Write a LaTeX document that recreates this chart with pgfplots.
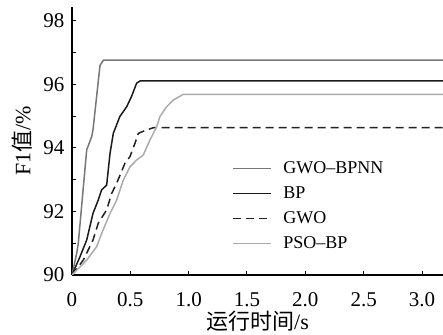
\documentclass[border=0pt]{standalone}
\usepackage{pgfplots}
\pgfplotsset{compat=1.18}
\usepackage{fontspec}
\setmainfont{Liberation Serif}
\newfontfamily\cjk{Noto Sans CJK SC}
\definecolor{cA}{HTML}{777777}
\definecolor{cB}{HTML}{1A1A1A}
\definecolor{cC}{HTML}{222222}
\definecolor{cD}{HTML}{ABABAB}
\begin{document}
\begin{tikzpicture}
\begin{axis}[
  name=ax,
  scale only axis, width=371pt, height=268pt,
  xmin=0, xmax=3.18, ymin=90, ymax=98.44,
  enlargelimits=false,
  axis lines=left,
  axis line style={-, line width=1.2pt, black},
  tick align=inside,
  tick style={black, line width=1pt},
  major tick length=4pt, minor tick length=4pt,
  xtick={0,0.5,1.0,1.5,2.0,2.5,3.0},
  xticklabels={0,0.5,1.0,1.5,2.0,2.5,3.0},
  ytick={90,92,94,96,98},
  minor ytick={91,93,95,97},
  tick label style={font=\fontsize{21}{25}\selectfont},
  yticklabel style={xshift=-4pt},
  xticklabel style={yshift=-14pt},
  /pgf/number format/assume math mode=true,
  xlabel={{\cjk 运行时间}/s},
  ylabel={F1{\cjk 值}/\%},
  xlabel style={at={(axis description cs:0.5,-0.172)}, anchor=center},
  ylabel style={at={(axis description cs:-0.135,0.5)}, anchor=center},
  label style={font=\fontsize{22}{26}\selectfont},
  legend style={draw=none, fill=none, at={(0.4225,0.453)}, anchor=north west,
    font=\fontsize{18}{22}\selectfont, row sep=0pt, column sep=10pt,
    nodes={minimum height=25pt, inner ysep=0pt}},
  legend cell align=left,
  legend image code/.code={\draw[#1] (0pt,0pt) -- (38pt,0pt);},
]
\addplot[cA, line width=1.5pt] coordinates {
(0,90) (0.04,90.68) (0.054,91.0) (0.126,93.94) (0.169,94.36) (0.18,94.57)
(0.24,96.6) (0.27,96.77) (3.18,96.77)};
\addlegendentry{GWO--BPNN}
\addplot[cB, line width=1.5pt] coordinates {
(0,90) (0.069,90.58) (0.126,91.1) (0.18,91.94) (0.225,92.36) (0.254,92.68)
(0.297,92.83) (0.326,93.83) (0.354,94.46) (0.41,94.99) (0.469,95.3)
(0.51,95.62) (0.554,96.04) (0.583,96.11) (3.18,96.11)};
\addlegendentry{BP}
\addplot[cC, line width=1.5pt, dash pattern=on 8pt off 5pt] coordinates {
(0,90) (0.097,90.47) (0.18,91.1) (0.225,91.63) (0.297,92.05) (0.34,92.57)
(0.383,92.89) (0.454,93.52) (0.497,93.73) (0.54,94.15) (0.568,94.46)
(0.64,94.57) (0.70,94.64) (3.18,94.64)};
\addlegendentry{GWO}
\addplot[cD, line width=1.5pt] coordinates {
(0,90) (0.126,90.47) (0.211,90.89) (0.254,91.31) (0.326,91.94) (0.383,92.36)
(0.44,92.99) (0.497,93.41) (0.554,93.62) (0.611,93.78) (0.668,94.25)
(0.726,94.67) (0.754,94.99) (0.811,95.3) (0.868,95.51) (0.954,95.69) (3.18,95.69)};
\addlegendentry{PSO--BP}
\end{axis}
\pgfresetboundingbox
\path[use as bounding box] ([xshift=-72pt,yshift=-60pt]ax.south west) rectangle ([yshift=7pt]ax.north east);
\end{tikzpicture}
\end{document}
